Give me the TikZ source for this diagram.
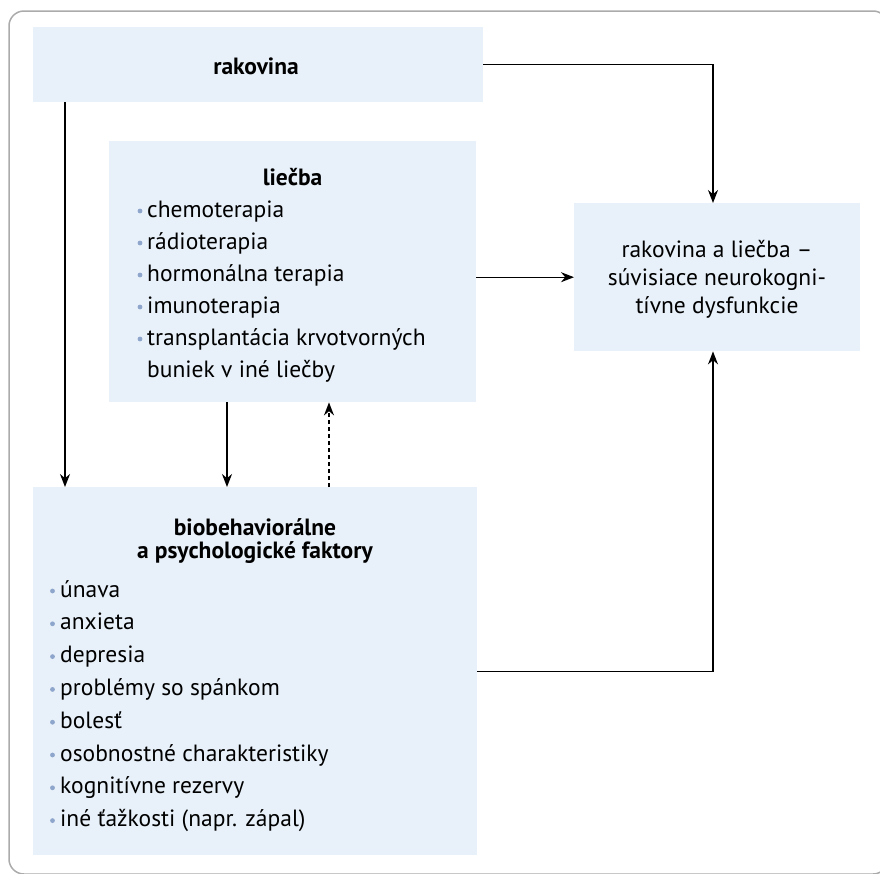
\documentclass[tikz,border=0pt]{standalone}
\usepackage{fontspec}
\setmainfont{PT Sans}
\usetikzlibrary{arrows.meta}
\definecolor{boxfill}{HTML}{E8F1F9}
\definecolor{framec}{HTML}{ABABAB}
\definecolor{bulc}{HTML}{8FA6CC}
\begin{document}
\begin{tikzpicture}[x=1pt,y=-1pt,
  boxn/.style={draw=none, fill=boxfill, inner sep=0, anchor=north west},
  arr/.style={line width=1.4pt, -{Stealth[length=13pt,width=10pt]}},
  txt/.style={inner sep=0, anchor=base west, font=\fontsize{23.5}{28}\selectfont},
  ctr/.style={inner sep=0, anchor=base, font=\fontsize{23.5}{28}\selectfont},
  ttl/.style={inner sep=0, anchor=base, font=\fontsize{23.5}{28}\selectfont\bfseries},
  bul/.style={circle, fill=bulc, inner sep=0, minimum size=4.8pt}]
\useasboundingbox (0,0) rectangle (880,873);
\draw[framec, line width=1.5pt, rounded corners=15pt] (9,11) rectangle (888,874);

% boxes
\node[boxn, minimum width=450pt, minimum height=75pt] (rak) at (33,27) {};
\node[boxn, minimum width=367pt, minimum height=261pt] (lie) at (109,141) {};
\node[boxn, minimum width=286pt, minimum height=148pt] (neu) at (574,203) {};
\node[boxn, minimum width=444pt, minimum height=368pt] (bio) at (33,487) {};

% texts
\node[ttl] (rakt) at (256,74) {rakovina};

\node[ttl] (liet) at (292.5,185) {liečba};
\foreach \t [count=\i] in {chemoterapia, rádioterapia, hormonálna terapia, imunoterapia, transplantácia krvotvorných} {
  \node[txt] (l\i) at (147,{217+32*(\i-1)}) {\t};
  \node[bul] (lb\i) at (140,{211+32*(\i-1)}) {};
}
\node[txt] (l6) at (147,377) {buniek v iné liečby};

\node[ctr] (n1) at (717,257) {rakovina a liečba –};
\node[ctr] (n2) at (717,285) {súvisiace neurokogni-};
\node[ctr] (n3) at (717,313) {tívne dysfunkcie};

\node[ttl] (bt1) at (255,535) {biobehaviorálne};
\node[ttl] (bt2) at (255,558) {a psychologické faktory};
\foreach \t [count=\i] in {únava, anxieta, depresia, problémy so spánkom, bolesť, osobnostné charakteristiky, kognitívne rezervy, iné ťažkosti (napr. zápal)} {
  \node[txt] (b\i) at (60,{597+32.8*(\i-1)}) {\t};
  \node[bul] (bb\i) at (52.5,{591+32.8*(\i-1)}) {};
}

% connectors
\coordinate (xa) at (65,0);
\coordinate (xb) at (227,0);
\coordinate (xc) at (329,0);
\coordinate (xd) at (713,0);
\draw[arr] (rak.east) -| (neu.north -| xd);
\draw[arr] (rak.south -| xa) -- (bio.north -| xa);
\draw[arr] (lie.south -| xb) -- (bio.north -| xb);
\draw[arr, dashed, dash pattern=on 4pt off 3pt] (bio.north -| xc) -- (lie.south -| xc);
\draw[arr] (lie.east |- neu.west) -- (neu.west);
\draw[arr] (bio.east) -| (neu.south -| xd);
\end{tikzpicture}
\end{document}
